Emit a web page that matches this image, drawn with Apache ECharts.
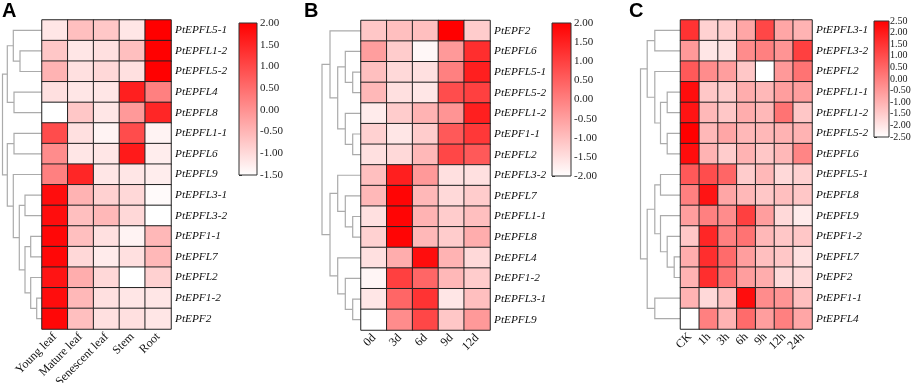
<!DOCTYPE html>
<html>
<head>
<meta charset="utf-8">
<script src="https://cdn.jsdelivr.net/npm/echarts@6/dist/echarts.min.js"></script>
<style>
  html, body { margin: 0; background: #fff; }
  #main { width: 913px; height: 383px; }
</style>
</head>
<body>
<div id="main"></div>
<script>
// ---- panel A: tissues ----
var genesA = ['PtEPFL5-1', 'PtEPFL1-2', 'PtEPFL5-2', 'PtEPFL4', 'PtEPFL8', 'PtEPFL1-1', 'PtEPFL6', 'PtEPFL9',
  'PtEPFL3-1', 'PtEPFL3-2', 'PtEPF1-1', 'PtEPFL7', 'PtEPFL2', 'PtEPF1-2', 'PtEPF2'];
var colsA = ['Young leaf', 'Mature leaf', 'Senescent leaf', 'Stem', 'Root'];
var valuesA = [
  [-1.15, -0.62, -0.73, -1.15, 2.0],
  [-0.73, -1.15, -1.08, -0.62, 1.98],
  [-0.45, -1.08, -0.97, -1.08, 1.98],
  [-1.08, -1.15, -1.15, 1.58, 0.25],
  [-1.5, -0.73, -1.15, -0.1, 1.48],
  [0.95, -1.08, -1.33, 0.95, -1.33],
  [0.08, -1.15, -1.15, 1.65, -1.25],
  [0.25, 1.48, -1.15, -1.15, -1.25],
  [1.82, -0.45, -0.87, -0.97, -1.43],
  [1.82, -0.62, -0.52, -0.97, -1.5],
  [1.9, -0.62, -1.08, -1.33, -0.52],
  [1.9, -0.97, -1.22, -1.08, -0.52],
  [1.72, -0.38, -0.97, -1.5, -0.87],
  [1.82, -0.52, -1.08, -1.15, -1.15],
  [1.9, -0.62, -1.08, -1.08, -1.15]
];
var treeA = [39.5, [34.7, [28.7, 0, [22, 1, 2]], [28, 3, 4]],
  [34.7, [28, 5, 6], [28.7, 7, [22.7, [17, 8, 9], [17, [11.3, 10, 11], [11.3, 12, [5.3, 13, 14]]]]]]];
var rangeA = [-1.5, 2.0];

// ---- panel B: days ----
var genesB = ['PtEPF2', 'PtEPFL6', 'PtEPFL5-1', 'PtEPFL5-2', 'PtEPFL1-2', 'PtEPF1-1', 'PtEPFL2', 'PtEPFL3-2',
  'PtEPFL7', 'PtEPFL1-1', 'PtEPFL8', 'PtEPFL4', 'PtEPF1-2', 'PtEPFL3-1', 'PtEPFL9'];
var colsB = ['0d', '3d', '6d', '9d', '12d'];
var valuesB = [
  [-1.12, -1.0, -1.0, 2.0, -1.2],
  [-0.48, -1.2, -1.88, -0.4, 1.28],
  [-1.0, -1.4, -1.52, 0.0, 1.52],
  [-0.88, -1.52, -1.6, 0.8, 1.0],
  [-1.68, -1.2, -0.8, -0.32, 1.52],
  [-1.28, -1.6, -1.2, 0.6, 1.12],
  [-1.52, -1.4, -0.88, 0.88, 0.6],
  [-1.0, 1.52, -0.4, -1.52, -1.52],
  [-0.88, 1.92, -0.88, -1.4, -1.2],
  [-1.52, 1.92, -0.8, -1.2, -1.0],
  [-1.28, 1.92, -0.88, -1.2, -0.72],
  [-1.52, -0.72, 1.8, -0.8, -1.4],
  [-1.84, 1.0, 0.4, -0.88, -1.2],
  [-1.6, 0.4, 1.2, -1.6, -1.0],
  [-2.0, -0.2, 0.88, -1.12, -0.4]
];
var treeB = [39, [31, 0, [23.3, [15.7, 1, [8.3, 2, 3]], [15.7, 4, [8.3, 5, 6]]]],
  [31, [23.3, 7, [15.7, 8, [8.3, 9, 10]]], [23.3, 11, [15.7, 12, [8.3, 13, 14]]]]];
var rangeB = [-2.0, 2.0];

// ---- panel C: hours ----
var genesC = ['PtEPFL3-1', 'PtEPFL3-2', 'PtEPFL2', 'PtEPFL1-1', 'PtEPFL1-2', 'PtEPFL5-2', 'PtEPFL6', 'PtEPFL5-1',
  'PtEPFL8', 'PtEPFL9', 'PtEPF1-2', 'PtEPFL7', 'PtEPF2', 'PtEPF1-1', 'PtEPFL4'];
var colsC = ['CK', '1h', '3h', '6h', '9h', '12h', '24h'];
var valuesC = [
  [1.5, -1.6, -1.5, -0.75, 1.1, -0.75, -1.0],
  [-0.5, -2.0, -1.9, -0.25, 0.0, -0.4, 1.25],
  [0.75, -0.25, -0.6, -1.4, -2.5, -0.5, 0.25],
  [2.25, -1.4, -1.5, -0.9, -1.1, -0.6, -0.6],
  [2.1, -1.1, -1.4, -0.9, -1.1, 0.25, -1.4],
  [2.5, -1.1, -0.75, -1.1, -1.1, -1.0, -1.0],
  [2.25, -1.0, -1.5, -1.0, -1.4, -1.1, -0.1],
  [0.75, 1.0, 0.5, -1.5, -1.1, -1.75, -1.6],
  [0.0, 2.1, -0.75, -1.1, -1.4, -1.25, -1.4],
  [-0.6, 0.0, -0.25, 1.25, -0.6, -1.75, -2.1],
  [-1.4, 1.75, 0.0, 0.25, -1.1, -1.4, -1.4],
  [-0.9, 1.6, 0.4, -0.6, -1.25, -1.4, -1.9],
  [-1.0, 1.6, 0.25, -0.6, -0.9, -1.75, -1.75],
  [-1.0, -1.75, -1.25, 2.25, -0.25, -0.4, -1.25],
  [-2.5, 0.0, -1.0, 0.4, -0.6, 0.0, -0.75]
];
var treeC = [40, [33.3, [25.7, 0, 1], [25.7, 2, [20, [13.3, 3, 4], [13.3, 5, 6]]]],
  [33.3, [25.7, [20, 7, 8], [20, 9, [13.3, 10, [6.3, 11, 12]]]], [25.7, 13, 14]]];
var rangeC = [-2.5, 2.5];

var serif = 'Liberation Serif';

function treeLinks(node, out) {
  if (typeof node === 'number') return { y: node + 0.5, h: 0 };
  var a = treeLinks(node[1], out);
  var b = treeLinks(node[2], out);
  out.push([node[0], a.y, b.y, a.h, b.h]);
  return { y: (a.y + b.y) / 2, h: node[0] };
}

function renderLink(params, api) {
  var h = api.value(0), y1 = api.value(1), y2 = api.value(2);
  var pts = [api.coord([api.value(3), y1]), api.coord([h, y1]), api.coord([h, y2]), api.coord([api.value(4), y2])];
  return { type: 'polyline', shape: { points: pts }, style: { stroke: '#ababab', lineWidth: 1.2, fill: null } };
}

function renderBar(params, api) {
  var hi = api.value(1), lo = api.value(2);
  var p1 = api.coord([0, hi]);
  var p2 = api.coord([1, lo]);
  return {
    type: 'rect',
    shape: { x: p1[0], y: p1[1], width: p2[0] - p1[0], height: p2[1] - p1[1] },
    style: {
      fill: new echarts.graphic.LinearGradient(0, 0, 0, 1, [
        { offset: 0, color: '#ff0000' }, { offset: 1, color: '#ffffff' }
      ]),
      stroke: '#333', lineWidth: 1
    }
  };
}

var grid = [], xAxis = [], yAxis = [], series = [], visualMap = [];

function addPanel(genes, cols, values, tree, range, box) {
  var g = grid.length;
  // dendrogram
  grid.push({ left: box.heatLeft - 42, top: box.top, width: 42, height: box.height, outerBoundsMode: 'none' });
  xAxis.push({ type: 'value', gridIndex: g, min: 0, max: 42, inverse: true, show: false });
  yAxis.push({ type: 'value', gridIndex: g, min: 0, max: genes.length, inverse: true, show: false });
  var links = [];
  treeLinks(tree, links);
  series.push({ type: 'custom', xAxisIndex: g, yAxisIndex: g, data: links, renderItem: renderLink,
    encode: { x: [0, 3, 4], y: [1, 2] }, silent: true, clip: false });

  // heatmap
  grid.push({ left: box.heatLeft, top: box.top, width: box.heatWidth, height: box.height, outerBoundsMode: 'none' });
  xAxis.push({ type: 'category', gridIndex: g + 1, data: cols,
    axisLine: { show: false }, axisTick: { show: false }, splitLine: { show: false },
    axisLabel: { rotate: 45, margin: 6, interval: 0, fontFamily: serif, fontSize: 12, color: '#111' } });
  yAxis.push({ type: 'category', gridIndex: g + 1, data: genes, inverse: true, position: 'right',
    axisLine: { show: false }, axisTick: { show: false }, splitLine: { show: false },
    axisLabel: { margin: 4, interval: 0, fontFamily: serif, fontStyle: 'italic', fontSize: 11.3, color: '#111' } });
  var cells = [];
  values.forEach(function (row, r) {
    row.forEach(function (v, c) { cells.push([c, r, v]); });
  });
  var hs = series.length;
  series.push({ type: 'heatmap', xAxisIndex: g + 1, yAxisIndex: g + 1, data: cells, silent: true,
    itemStyle: { borderColor: '#222', borderWidth: 1 }, emphasis: { disabled: true } });
  visualMap.push({ show: false, seriesIndex: hs, min: range[0], max: range[1], dimension: 2,
    inRange: { color: ['#ffffff', '#ff0000'] } });

  // colour bar
  grid.push({ left: box.barLeft, top: box.barTop, width: box.barWidth, height: box.barHeight, outerBoundsMode: 'none' });
  xAxis.push({ type: 'value', gridIndex: g + 2, min: 0, max: 1, show: false });
  yAxis.push({ type: 'value', gridIndex: g + 2, min: range[0], max: range[1], interval: 0.5, position: 'right',
    axisLine: { show: false }, splitLine: { show: false },
    axisTick: { show: true, length: 3, lineStyle: { color: '#333' } },
    axisLabel: { margin: box.barMargin, fontFamily: serif, fontSize: box.barFont, color: '#222', hideOverlap: false,
      formatter: function (v) { return v.toFixed(2); } } });
  series.push({ type: 'custom', xAxisIndex: g + 2, yAxisIndex: g + 2, data: [[0, range[1], range[0]]],
    renderItem: renderBar, silent: true, clip: false });
}

addPanel(genesA, colsA, valuesA, treeA, rangeA,
  { heatLeft: 42, heatWidth: 129, top: 20, height: 309,
    barLeft: 239, barTop: 23, barWidth: 18, barHeight: 152, barFont: 11, barMargin: 3 });
addPanel(genesB, colsB, valuesB, treeB, rangeB,
  { heatLeft: 361, heatWidth: 129, top: 20.5, height: 309.5,
    barLeft: 552, barTop: 23, barWidth: 19, barHeight: 153, barFont: 11, barMargin: 3 });
addPanel(genesC, colsC, valuesC, treeC, rangeC,
  { heatLeft: 680.5, heatWidth: 131.5, top: 20, height: 309,
    barLeft: 874, barTop: 21, barWidth: 15, barHeight: 116, barFont: 10, barMargin: 1 });

var chart = echarts.init(document.getElementById('main'));
chart.setOption({
  animation: false,
  backgroundColor: '#fff',
  title: [
    { text: 'A', left: 2, top: 1, padding: 0, textStyle: { fontFamily: 'Liberation Sans', fontWeight: 'bold', fontSize: 20, color: '#000' } },
    { text: 'B', left: 304, top: 1, padding: 0, textStyle: { fontFamily: 'Liberation Sans', fontWeight: 'bold', fontSize: 20, color: '#000' } },
    { text: 'C', left: 629, top: 1, padding: 0, textStyle: { fontFamily: 'Liberation Sans', fontWeight: 'bold', fontSize: 20, color: '#000' } }
  ],
  grid: grid,
  xAxis: xAxis,
  yAxis: yAxis,
  visualMap: visualMap,
  series: series
});
</script>
</body>
</html>
